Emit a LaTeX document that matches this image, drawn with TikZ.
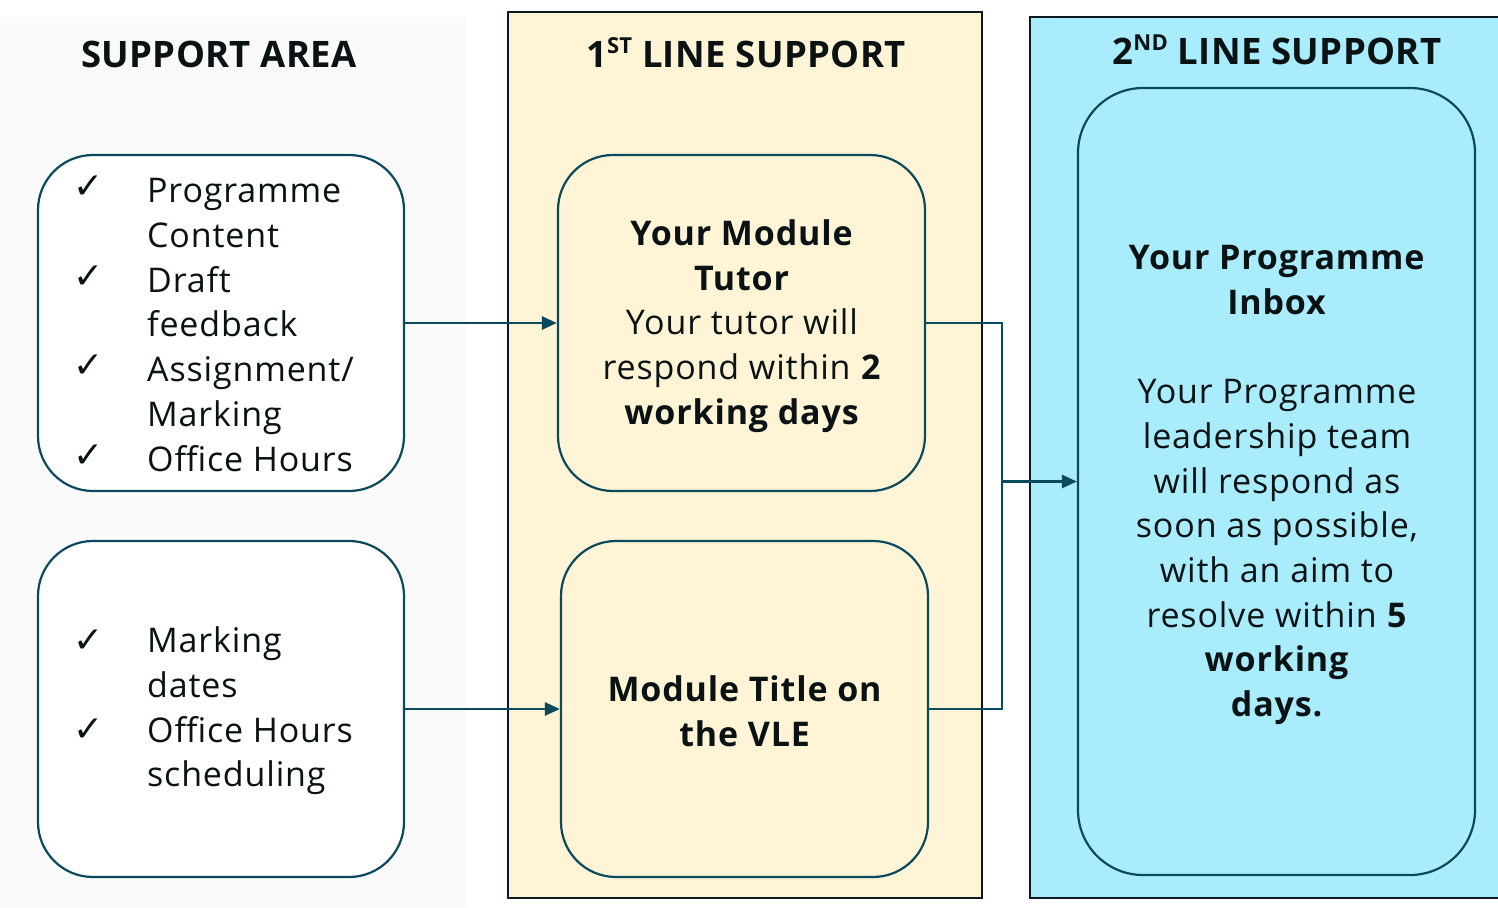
\documentclass[tikz,border=0pt]{standalone}
\usepackage{fontspec}
\setmainfont{Open Sans}[LetterSpace=2.5]
\newfontfamily\headfont{Open Sans}[LetterSpace=1]
\newfontfamily\symfont{DejaVu Sans}
\usetikzlibrary{arrows.meta}
\definecolor{edgecol}{HTML}{0B4A5C}
\definecolor{panelline}{HTML}{0A1A1F}
\definecolor{greybg}{HTML}{FAFAFA}
\definecolor{yellowbg}{HTML}{FFF5D6}
\definecolor{bluebg}{HTML}{A9EDFC}
\definecolor{txt}{HTML}{0A1214}
\tikzset{
  panel/.style={draw=panelline, line width=2.5pt},
  rbox/.style={draw=edgecol, line width=2.2pt, rounded corners=55pt, inner sep=0pt},
  body/.style={font=\fontsize{34}{44.7}\selectfont, text=txt, inner sep=0pt},
  head/.style={font=\headfont\fontsize{36.5}{40}\selectfont\bfseries, text=txt, inner sep=0pt},
  tick/.style={font=\symfont\fontsize{36}{36}\selectfont, text=txt, inner sep=0pt},
  conn/.style={draw=edgecol, line width=2.8pt},
  arr/.style={conn, -{Triangle[length=15pt,width=13pt]}}
}
\newcommand{\supx}[1]{\raisebox{0.36em}{\fontsize{22}{22}\selectfont #1}}
\begin{document}
\begin{tikzpicture}[x=1pt,y=-1pt]
\useasboundingbox (0,0) rectangle (1498,907);
\fill[white] (0,0) rectangle (1498,907);
% panels
\fill[greybg] (0,17) rectangle (467,907);
\draw[panel, fill=yellowbg] (508,12) rectangle (982,898);
\draw[panel, fill=bluebg] (1030,17) rectangle (1512,898);
% headings
\node[head, anchor=base] (h0) at (219,67) {SUPPORT AREA};
\node[head, anchor=base] (h1) at (746,67) {1\supx{ST} LINE SUPPORT};
\node[head, anchor=base] (h2) at (1277,64) {2\supx{ND} LINE SUPPORT};
% left boxes
\node[rbox, fill=white, minimum width=366pt, minimum height=336pt] (lb1) at (221,323) {};
\node[rbox, fill=white, minimum width=366pt, minimum height=336pt] (lb2) at (221,709) {};
\node[body, anchor=west, align=left] (lt1) at (147,325) {Programme\\Content\\Draft\\feedback\\Assignment/\\Marking\\Office Hours};
\node[body, anchor=west, align=left] (lt2) at (147,711) {Marking\\dates\\Office Hours\\scheduling};
\node[tick] (c1) at (89,187) {✓};
\node[tick] (c2) at (89,277) {✓};
\node[tick] (c3) at (89,366) {✓};
\node[tick] (c4) at (89,456) {✓};
\node[tick] (c5) at (89,641) {✓};
\node[tick] (c6) at (89,730) {✓};
% middle boxes
\node[rbox, fill=yellowbg, minimum width=367pt, minimum height=336pt] (mb1) at (741.5,323) {};
\node[rbox, fill=yellowbg, minimum width=367pt, minimum height=336pt] (mb2) at (744.5,709) {};
\node[body, align=center] (mt1) at (742,326) {\textbf{Your Module}\\\textbf{Tutor}\\Your tutor will\\respond within \textbf{2}\\\textbf{working days}};
\node[body, align=center] (mt2) at (745,711) {\textbf{Module Title on}\\\textbf{the VLE}};
% right box
\node[rbox, rounded corners=65pt, fill=bluebg, minimum width=397pt, minimum height=787pt] (rb) at (1276.5,481.5) {};
\node[body, align=center] (rt) at (1277,485) {\textbf{Your Programme}\\\textbf{Inbox}\\[44.7pt]Your Programme\\leadership team\\will respond as\\soon as possible,\\with an aim to\\resolve within \textbf{5}\\\textbf{working}\\\textbf{days.}};
% connectors
\coordinate (j) at (1002,481.5);
\draw[arr] (lb1.east) -- (mb1.west);
\draw[arr] (lb2.east) -- (mb2.west);
\draw[conn] (mb1.east) -| (j);
\draw[conn] (mb2.east) -| (j);
\draw[arr] (j) -- (rb.west);
\end{tikzpicture}
\end{document}
